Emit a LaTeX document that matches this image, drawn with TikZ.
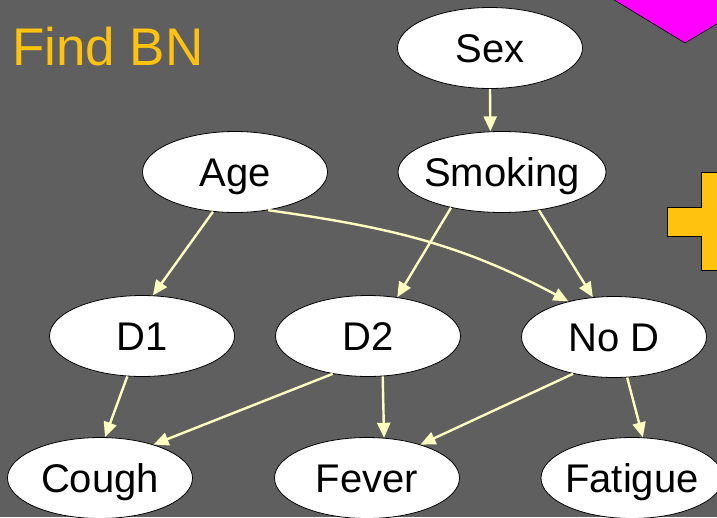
\documentclass[tikz,border=0pt]{standalone}
\usepackage{fontspec}
\setmainfont{Liberation Sans}
\usetikzlibrary{shapes.geometric,arrows.meta}
\definecolor{bg}{HTML}{5F5F5F}
\definecolor{arr}{HTML}{FFFFC0}
\definecolor{ttl}{HTML}{FFC20E}
\definecolor{mag}{HTML}{FF00FF}
\newcommand\zerobox[1]{\makebox[0pt]{#1}}
\begin{document}
\begin{tikzpicture}[x=1pt,y=1pt,
  bn/.style={ellipse,draw=black,line width=0.8pt,fill=white,minimum width=185pt,minimum height=81pt,inner sep=0pt,text height=30pt,text depth=1.4pt,font=\fontsize{40}{40}\selectfont},
  link/.style={draw=arr,line width=2.4pt,-{Triangle[length=15pt,width=13pt]}}]
\useasboundingbox (0,0) rectangle (717,-517);
\fill[bg] (0,0) rectangle (717,-517);
% decorative shapes
\draw[fill=mag,line width=0.6pt] (611,2) -- (685,-43) -- (740,-10) -- (740,2) -- cycle;
\draw[fill=ttl,line width=0.8pt] (701,-172) -- (730,-172) -- (730,-207) -- (764,-207) -- (764,-236) -- (730,-236) -- (730,-270) -- (701,-270) -- (701,-236) -- (667,-236) -- (667,-207) -- (701,-207) -- cycle;
% title
\node[anchor=base west,inner sep=0pt,text=ttl,font=\fontsize{53}{53}\selectfont] (title) at (12,-65) {Find BN};
% nodes
\node[bn] (sex) at (490,-48) {Sex};
\node[bn,minimum width=208pt] (smoking) at (502,-172) {\zerobox{Smoking}};
\node[bn] (age) at (235,-172) {Age};
\node[bn] (d1) at (142,-336) {D1};
\node[bn] (d2) at (368,-336) {D2};
\node[bn] (nod) at (614,-337) {No D};
\node[bn] (cough) at (100,-478) {Cough};
\node[bn] (fever) at (367,-478) {Fever};
\node[bn,minimum width=182pt] (fatigue) at (632,-478) {\zerobox{Fatigue}};
% links
\draw[link] (sex.-90) -- (smoking.106);
\draw[link] (age.-119) -- (d1.75);
\draw[link] (smoking.-145) -- (d2.53);
\draw[link] (smoking.-46) -- (nod.118);
\draw[link] (age.-49) to[out=-8,in=152] (nod.142);
\draw[link] (d1.-110) -- (cough.83);
\draw[link] (d2.-133) -- (cough.32);
\draw[link] (d2.-70) -- (fever.67);
\draw[link] (nod.-138) -- (fever.32);
\draw[link] (nod.-72) -- (fatigue.75);
\end{tikzpicture}
\end{document}
